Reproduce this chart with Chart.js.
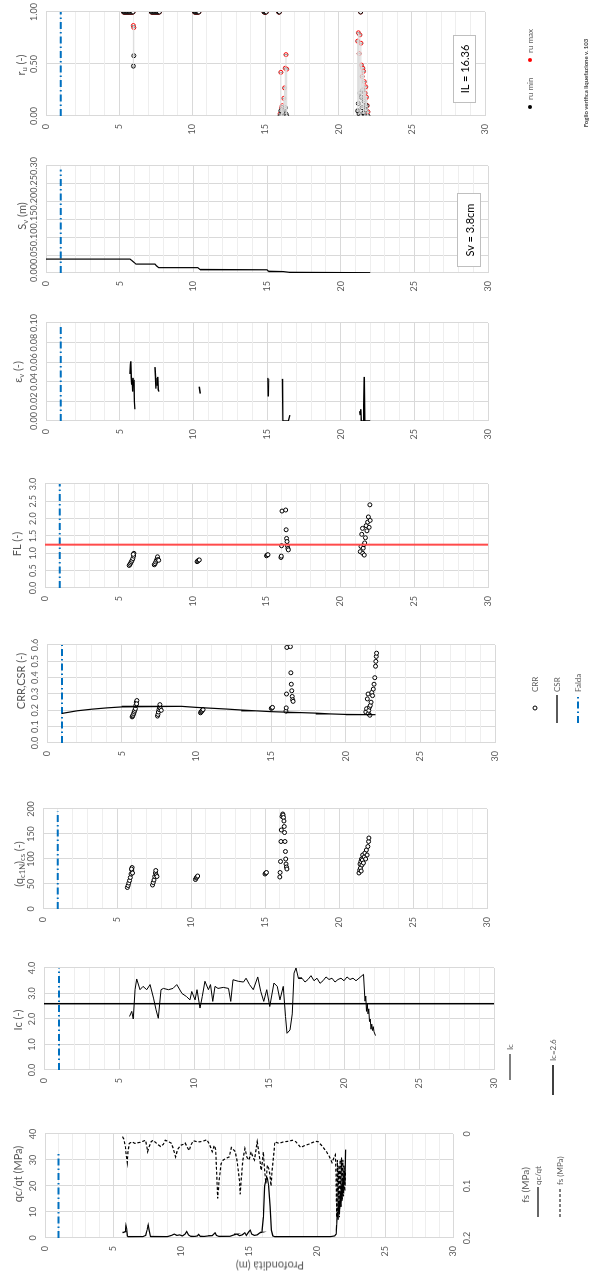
<!DOCTYPE html>
<html><head><meta charset="utf-8">
<script src="https://cdn.jsdelivr.net/npm/chart.js@4.4.0/dist/chart.umd.min.js"></script>
<style>
html,body{margin:0;padding:0;background:#fff;width:589px;height:1276px;overflow:hidden;}
#rot{position:absolute;left:0;top:0;width:1276px;height:589px;transform-origin:0 0;transform:translateY(1276px) rotate(-90deg);font-family:Lato,'Open Sans',sans-serif;}
#rot canvas{position:absolute;top:0;z-index:1;}
.t{position:absolute;white-space:nowrap;color:#595959;transform:translate(-50%,-50%);line-height:1;font-size:11px;z-index:2;}
.l{position:absolute;white-space:nowrap;color:#595959;transform:translateY(-50%);line-height:1;font-size:8px;z-index:2;}
sub{font-size:70%;vertical-align:-0.3em;line-height:0;}
.box{position:absolute;border:1px solid #bfbfbf;background:#fff;display:flex;align-items:center;justify-content:center;color:#000;box-sizing:border-box;white-space:nowrap;z-index:3;}
.dot{position:absolute;width:4px;height:4px;border-radius:50%;transform:translate(-50%,-50%);z-index:2;}
.sw{position:absolute;z-index:2;}
</style></head><body>
<div id="rot">
  <!-- axis titles -->
  <div class="t" style="left:1211px;top:20px">r<sub>u</sub> (-)</div>
  <div class="t" style="left:1060px;top:21px">S<sub>v</sub> (m)</div>
  <div class="t" style="left:904px;top:17px">ε<sub>v</sub> (-)</div>
  <div class="t" style="left:732px;top:16px">FL (-)</div>
  <div class="t" style="left:595px;top:20px">CRR,CSR (-)</div>
  <div class="t" style="left:412px;top:18px">(q<sub>c1N</sub>)<sub>cs</sub> (-)</div>
  <div class="t" style="left:256px;top:17px">Ic (-)</div>
  <div class="t" style="left:102px;top:17px">qc/qt (MPa)</div>
  <div class="t" style="left:91px;top:525px;font-size:10px">fs (MPa)</div>
  <div class="t" style="left:10px;top:270px;transform:translate(-50%,-50%) rotate(-90deg)">Profondità (m)</div>

  <!-- ru legend -->
  <div class="dot" style="left:1169px;top:530px;background:#000"></div>
  <div class="l" style="left:1176px;top:530px">ru min</div>
  <div class="dot" style="left:1216px;top:530px;background:#ff0000"></div>
  <div class="l" style="left:1223px;top:530px">ru max</div>
  <div class="t" style="left:1193px;top:586px;font-size:6px;font-weight:bold;color:#404040">Foglio verifica liquefazione v. 103</div>

  <!-- boxes -->
  <div class="box" style="left:1173px;top:453px;width:68px;height:23px;font-size:11px">IL = 16.36</div>
  <div class="box" style="left:1009px;top:457px;width:74px;height:24px;font-size:11px">Sv = 3.8cm</div>

  <!-- CRR legend -->
  <div class="dot" style="left:568px;top:535px;border:1px solid #000;background:#fff;width:3px;height:3px"></div>
  <div class="l" style="left:584px;top:535px">CRR</div>
  <svg class="sw" style="left:553px;top:554px" width="28" height="6"><line x1="0" y1="3" x2="28" y2="3" stroke="#000" stroke-width="1.3"/></svg>
  <div class="l" style="left:584px;top:557px">CSR</div>
  <svg class="sw" style="left:553px;top:575px" width="28" height="6"><line x1="0" y1="3" x2="28" y2="3" stroke="#0070C0" stroke-width="2" stroke-dasharray="7 3 1.5 3"/></svg>
  <div class="l" style="left:584px;top:578px">Falda</div>

  <!-- Ic legend -->
  <svg class="sw" style="left:196px;top:507px" width="26" height="6"><line x1="0" y1="3" x2="26" y2="3" stroke="#000" stroke-width="1"/></svg>
  <div class="l" style="left:226px;top:510px">Ic</div>
  <svg class="sw" style="left:181px;top:550px" width="30" height="6"><line x1="0" y1="3" x2="30" y2="3" stroke="#000" stroke-width="1.5"/></svg>
  <div class="l" style="left:215px;top:553px">Ic=2.6</div>

  <!-- qc legend -->
  <svg class="sw" style="left:59px;top:535px" width="30" height="6"><line x1="0" y1="3" x2="30" y2="3" stroke="#000" stroke-width="1.2"/></svg>
  <div class="l" style="left:91px;top:538px">qc/qt</div>
  <svg class="sw" style="left:59px;top:557px" width="30" height="6"><line x1="0" y1="3" x2="30" y2="3" stroke="#000" stroke-width="1.2" stroke-dasharray="3 2"/></svg>
  <div class="l" style="left:91px;top:560px">fs (MPa)</div>
</div>
<script>
// ---------------- DATA ----------------
const depthTicks = [0, 5, 10, 15, 20, 25, 30];
const faldaDepth = 1.0;
const icLimit = 2.6;
const flLimit = 1.25;

// qc/qt (MPa): [depth, value]
const qcProfile = [[5.70,2.0],[5.80,2.2],[5.90,2.5],[5.95,4.8],[6.00,3.5],[6.05,0.8],[6.10,0.5],[6.30,0.5],[6.60,0.6],[6.90,0.5],[7.20,0.6],[7.40,1.0],[7.50,3.0],[7.58,5.0],[7.65,3.0],[7.75,0.6],[8.00,0.5],[8.50,0.5],[9.00,0.6],[9.30,1.0],[9.50,1.5],[9.70,1.0],[9.90,1.2],[10.10,0.8],[10.30,1.5],[10.42,2.5],[10.55,1.2],[10.70,0.7],[11.00,0.6],[11.20,0.8],[11.30,1.4],[11.40,0.7],[11.70,0.6],[12.00,0.8],[12.30,0.9],[12.50,2.0],[12.60,1.0],[12.80,0.6],[13.20,0.6],[13.60,0.7],[13.90,1.2],[14.10,1.5],[14.30,0.9],[14.50,1.2],[14.70,2.0],[14.80,1.0],[15.00,2.5],[15.10,3.0],[15.20,1.5],[15.40,1.0],[15.60,1.2],[15.80,2.0],[15.95,2.2],[16.05,8.0],[16.15,20.0],[16.25,22.5],[16.35,23.0],[16.45,20.0],[16.55,12.0],[16.65,3.0],[16.75,0.8],[16.90,0.5],[17.50,0.5],[18.00,0.6],[18.50,0.5],[19.00,0.5],[19.50,0.6],[20.00,0.5],[20.50,0.5],[21.00,0.6],[21.30,0.8],[21.40,1.5],[21.45,5.0],[21.50,10.0],[21.55,7.0],[21.60,14.0],[21.65,9.0],[21.70,17.0],[21.75,12.0],[21.80,20.0],[21.85,15.0],[21.90,23.0],[21.95,18.0],[22.00,26.0],[22.05,21.0],[22.10,34.0]];

// fs (MPa): [depth, value]
const fsProfile = [[5.70,0.005],[5.80,0.010],[5.90,0.024],[5.97,0.040],[6.05,0.055],[6.10,0.035],[6.20,0.018],[6.40,0.015],[6.60,0.018],[6.80,0.017],[7.00,0.016],[7.20,0.014],[7.40,0.012],[7.55,0.034],[7.65,0.025],[7.80,0.015],[7.95,0.012],[8.20,0.018],[8.50,0.024],[8.70,0.020],[8.85,0.012],[9.10,0.015],[9.30,0.018],[9.45,0.030],[9.60,0.044],[9.75,0.030],[9.95,0.022],[10.15,0.020],[10.30,0.017],[10.45,0.025],[10.60,0.032],[10.75,0.020],[10.90,0.013],[11.20,0.015],[11.40,0.015],[11.70,0.013],[11.90,0.011],[12.10,0.020],[12.30,0.034],[12.45,0.022],[12.55,0.030],[12.70,0.124],[12.80,0.090],[12.95,0.057],[13.10,0.050],[13.30,0.047],[13.55,0.044],[13.70,0.026],[13.85,0.030],[14.00,0.034],[14.15,0.057],[14.30,0.090],[14.35,0.116],[14.45,0.080],[14.55,0.050],[14.70,0.028],[14.85,0.045],[15.00,0.050],[15.15,0.034],[15.30,0.045],[15.40,0.050],[15.60,0.015],[15.75,0.040],[15.90,0.070],[16.00,0.050],[16.05,0.034],[16.15,0.070],[16.25,0.095],[16.35,0.060],[16.45,0.066],[16.55,0.080],[16.62,0.100],[16.70,0.070],[16.80,0.045],[16.90,0.015],[17.20,0.018],[17.55,0.015],[17.90,0.014],[18.20,0.012],[18.45,0.015],[18.80,0.026],[19.10,0.022],[19.35,0.020],[19.70,0.016],[19.90,0.014],[20.10,0.015],[20.40,0.024],[20.70,0.034],[20.90,0.043],[21.10,0.055],[21.25,0.045],[21.35,0.040],[21.40,0.080],[21.45,0.160],[21.50,0.050],[21.55,0.150],[21.60,0.060],[21.65,0.160],[21.70,0.050],[21.75,0.140],[21.80,0.045],[21.85,0.130],[21.90,0.050],[21.95,0.120],[22.00,0.060],[22.05,0.110],[22.10,0.070]];

// Ic (-): [depth, value]
const icProfile = [[5.70,2.10],[5.85,2.30],[5.95,2.00],[6.07,3.15],[6.18,3.57],[6.40,3.15],[6.60,3.28],[6.85,3.15],[7.07,3.35],[7.30,2.82],[7.47,2.36],[7.62,2.03],[7.80,3.15],[7.96,3.20],[8.30,3.15],[8.60,3.20],[8.85,3.35],[9.20,3.00],[9.50,2.88],[9.73,2.75],[9.85,3.08],[10.07,2.75],[10.20,3.15],[10.40,2.43],[10.55,2.88],[10.73,3.48],[10.96,3.15],[11.10,3.35],[11.25,2.69],[11.40,3.28],[11.60,3.20],[11.95,3.24],[12.30,3.20],[12.45,2.69],[12.60,3.54],[12.95,3.48],[13.30,3.45],[13.47,3.60],[13.70,3.35],[13.95,3.15],[14.25,3.65],[14.45,3.08],[14.65,2.69],[14.85,3.15],[15.05,2.49],[15.33,3.41],[15.55,3.28],[15.73,2.75],[15.95,3.28],[16.10,2.10],[16.20,1.44],[16.40,1.57],[16.55,2.20],[16.67,3.80],[16.80,4.00],[16.96,3.60],[17.20,3.60],[17.40,3.45],[17.60,3.55],[17.80,3.70],[18.00,3.50],[18.20,3.60],[18.40,3.40],[18.60,3.50],[18.80,3.65],[19.00,3.55],[19.20,3.60],[19.40,3.45],[19.60,3.55],[19.80,3.60],[20.00,3.50],[20.20,3.65],[20.40,3.55],[20.60,3.60],[20.80,3.50],[21.00,3.60],[21.20,3.70],[21.30,3.75],[21.40,2.70],[21.45,2.90],[21.50,2.30],[21.55,2.60],[21.60,2.20],[21.65,2.40],[21.70,1.90],[21.75,2.00],[21.80,1.60],[21.85,1.80],[21.90,1.55],[21.95,1.70],[22.00,1.50],[22.10,1.35]];

// (qc1N)cs (-): [depth, value]
const qc1ncsPoints = [[5.70,43],[5.75,47],[5.80,52],[5.85,57],[5.90,63],[5.95,70],[6.00,78],[6.02,83],[5.98,80],[6.05,72],[7.40,48],[7.45,53],[7.50,58],[7.55,65],[7.60,72],[7.62,77],[7.65,68],[7.70,65],[10.30,59],[10.35,62],[10.40,64],[10.45,66],[15.00,70],[15.05,72],[15.10,73],[16.00,64],[16.02,73],[16.05,95],[16.08,135],[16.10,158],[16.15,185],[16.20,190],[16.22,188],[16.25,183],[16.28,176],[16.30,165],[16.32,153],[16.35,135],[16.38,115],[16.40,100],[16.42,90],[16.45,84],[16.48,80],[21.35,72],[21.40,78],[21.42,90],[21.45,82],[21.48,95],[21.50,76],[21.52,100],[21.55,88],[21.58,98],[21.60,108],[21.65,92],[21.70,104],[21.75,112],[21.80,100],[21.85,118],[21.90,108],[21.95,125],[22.00,135],[22.02,142]];

// CRR (-): [depth, value]
const crrPoints = [[5.70,0.160],[5.73,0.165],[5.76,0.170],[5.80,0.180],[5.84,0.190],[5.88,0.200],[5.92,0.210],[5.95,0.230],[5.98,0.250],[6.02,0.260],[6.00,0.240],[7.40,0.165],[7.43,0.175],[7.46,0.190],[7.50,0.205],[7.53,0.220],[7.56,0.235],[7.60,0.210],[7.65,0.200],[10.28,0.185],[10.32,0.190],[10.36,0.195],[10.40,0.200],[10.45,0.205],[15.02,0.212],[15.06,0.215],[15.10,0.218],[16.00,0.195],[16.02,0.215],[16.04,0.300],[16.06,0.585],[16.30,0.590],[16.33,0.430],[16.36,0.360],[16.39,0.320],[16.42,0.285],[16.45,0.265],[16.48,0.255],[21.35,0.190],[21.40,0.210],[21.45,0.270],[21.50,0.300],[21.52,0.180],[21.55,0.200],[21.60,0.220],[21.62,0.170],[21.65,0.230],[21.70,0.250],[21.75,0.310],[21.80,0.290],[21.85,0.330],[21.90,0.360],[21.95,0.400],[22.00,0.470],[22.02,0.500],[22.05,0.530],[22.07,0.550]];

// CSR (-): [depth, value]
const csrProfile = [[1,0.181],[2,0.197],[3,0.207],[4,0.215],[5,0.221],[6,0.225],[7,0.226],[8,0.225],[9,0.222],[10,0.218],[11,0.213],[12,0.208],[13,0.202],[14,0.197],[15,0.192],[16,0.189],[17,0.186],[18,0.183],[19,0.178],[20,0.175],[21,0.174],[22,0.173]];

// FL (-): [depth, value]
const flPoints = [[5.70,0.65],[5.75,0.68],[5.80,0.72],[5.85,0.76],[5.90,0.80],[5.95,0.85],[6.00,0.92],[6.02,1.00],[5.98,0.97],[7.40,0.67],[7.45,0.70],[7.50,0.75],[7.55,0.80],[7.60,0.85],[7.62,0.90],[7.65,0.82],[7.70,0.80],[10.30,0.76],[10.35,0.78],[10.40,0.80],[10.45,0.81],[15.00,0.93],[15.05,0.95],[15.10,0.96],[15.98,0.88],[16.00,0.92],[16.02,1.22],[16.05,2.22],[16.30,2.25],[16.33,1.68],[16.36,1.43],[16.39,1.34],[16.42,1.22],[16.45,1.14],[16.48,1.10],[21.35,1.05],[21.40,1.20],[21.45,1.55],[21.50,1.72],[21.52,1.00],[21.55,1.15],[21.60,1.25],[21.62,0.95],[21.65,1.30],[21.70,1.45],[21.75,1.80],[21.80,1.65],[21.85,1.90],[21.90,2.05],[21.95,1.75],[22.00,2.40],[22.02,1.95]];

// eps_v (-): [depth, value], null = gap
const epsProfile = [[5.70,0.048],[5.73,0.058],[5.76,0.061],[5.79,0.045],[5.82,0.037],[5.85,0.043],[5.88,0.030],[5.91,0.044],[5.94,0.035],[5.97,0.042],[6.00,0.020],[6.03,0.012],null,[7.40,0.055],[7.43,0.045],[7.46,0.033],[7.50,0.044],[7.54,0.036],[7.58,0.045],[7.62,0.032],[7.66,0.030],null,[10.40,0.035],[10.47,0.028],null,[15.06,0.044],[15.08,0.025],[15.10,0.043],null,[16.05,0.043],[16.08,0.000],[16.30,0.000],[16.45,0.000],[16.55,0.006],null,[21.30,0.010],[21.33,0.006],[21.36,0.012],[21.40,0.000],[21.55,0.000],[21.60,0.045],[21.63,0.000],[21.80,0.000],[22.00,0.000]];

// S_v (m): [depth, value]
const svProfile = [[0,0.039],[5.70,0.039],[5.80,0.036],[6.00,0.029],[6.10,0.025],[7.40,0.025],[7.50,0.020],[7.65,0.015],[10.30,0.015],[10.45,0.010],[15.00,0.009],[15.10,0.005],[16.00,0.005],[16.10,0.003],[16.50,0.002],[21.30,0.0015],[21.60,0.001],[22.00,0.000]];

// r_u: [depth, ru min, ru max]
const ruPoints = [[5.30,1,1],[5.35,1,1],[5.40,1,1],[5.45,1,1],[5.50,1,1],[5.55,1,1],[5.60,1,1],[5.65,1,1],[5.70,1,1],[5.75,1,1],[5.80,1,1],[5.85,1,1],[5.90,1,1],[5.95,1,1],[5.97,0.48,0.87],[6.00,0.58,0.85],[7.20,1,1],[7.25,1,1],[7.30,1,1],[7.35,1,1],[7.40,1,1],[7.45,1,1],[7.50,1,1],[7.55,1,1],[7.60,1,1],[7.65,1,1],[7.70,1,1],[7.75,1,1],[10.15,1,1],[10.20,1,1],[10.25,1,1],[10.30,1,1],[10.35,1,1],[10.40,1,1],[10.45,1,1],[14.90,1,1],[14.95,1,1],[15.00,1,1],[15.05,1,1],[15.90,1,1],[15.95,1,1],[16.00,0.00,0.02],[16.05,0.05,0.42],[16.10,0.00,0.08],[16.15,0.02,0.10],[16.20,0.00,0.05],[16.25,0.04,0.17],[16.30,0.06,0.27],[16.35,0.08,0.46],[16.40,0.02,0.59],[16.45,0.00,0.45],[21.30,0.05,0.72],[21.35,0.12,0.80],[21.40,0.02,0.60],[21.45,0.22,0.78],[21.50,1.00,1.00],[21.52,0.00,0.70],[21.55,0.18,0.49],[21.60,0.08,0.38],[21.65,0.25,0.46],[21.70,0.03,0.43],[21.75,0.14,0.33],[21.80,0.00,0.22],[21.85,0.06,0.28],[21.90,0.10,0.18],[21.95,0.00,0.10],[22.00,0.00,0.04]];

// ---------------- DRAW ----------------
const GRID = '#d9d9d9', MINOR = '#eeeeee', TXT = '#595959', BLUE = '#0070C0';
Chart.defaults.font.family = 'Lato';
Chart.defaults.animation = false;

const xy = arr => arr.map(p => p === null ? {x:null, y:null} : {x:p[1], y:p[0]});
const scatterDs = (data, color) => ({data, showLine:false, pointRadius:2, pointHoverRadius:2, pointBorderWidth:1, pointBorderColor:color||'#000', pointBackgroundColor:'#fff'});
const lineDs = (data, color, width, dash, axis) => ({data, showLine:true, pointRadius:0, borderColor:color, borderWidth:width, borderDash:dash||[], spanGaps:false, xAxisID:axis||'x'});
const faldaDs = (maxV, axis) => lineDs([{x:0,y:faldaDepth},{x:maxV,y:faldaDepth}], BLUE, 2, [7,3,1.5,3], axis);

function zeroPad(s){ s.paddingLeft = 0; s.paddingRight = 0; s.paddingTop = 0; s.paddingBottom = 0; }

function panel(o) {
  const padR = 12, padB = o.x2 ? 40 : 8;
  const w = (o.R - o.L) + 40 + padR;
  const h = o.B + padB;
  const cv = document.createElement('canvas');
  cv.width = w; cv.height = h;
  cv.style.left = (o.L - 40) + 'px';
  cv.style.width = w + 'px'; cv.style.height = h + 'px';
  document.getElementById('rot').appendChild(cv);
  const scales = {
    x: {type:'linear', position:'top', min:o.min, max:o.max,
        ticks:{stepSize:o.step, autoSkip:false, maxRotation:0, minRotation:0, color:TXT, font:{size:9}, padding:7, callback:o.fmt},
        grid:{color:GRID, drawTicks:false}, border:{color:GRID},
        afterFit: s => { s.height = o.T; zeroPad(s); }},
    y: {type:'linear', position:'left', reverse:true, min:0, max:30,
        ticks:{stepSize:1, autoSkip:false, color:TXT, font:{size:9}, padding:8,
               callback: v => depthTicks.includes(v) ? String(v) : ''},
        grid:{color: c => (c.tick && depthTicks.includes(c.tick.value)) ? GRID : MINOR, drawTicks:false},
        border:{color:GRID},
        afterFit: s => { s.width = 40; zeroPad(s); }}
  };
  if (o.x2) scales.x2 = o.x2;
  new Chart(cv, {
    type:'scatter',
    data:{datasets:o.datasets},
    options:{responsive:false, animation:false, devicePixelRatio:1,
      layout:{autoPadding:false, padding:{left:0, top:0, right:padR, bottom:padB}},
      plugins:{legend:{display:false}, tooltip:{enabled:false}},
      events:[], scales}
  });
}

// qc / fs
panel({L:38, R:142, T:45, B:493, min:0, max:40, step:10, fmt:v=>String(v),
  x2:{type:'linear', position:'bottom', reverse:true, min:0, max:0.2,
      ticks:{stepSize:0.1, autoSkip:false, maxRotation:0, color:TXT, font:{size:9}, padding:9, callback:v=> v===0 ? '0' : v.toFixed(1)},
      grid:{display:false, drawTicks:false}, border:{display:false},
      afterFit: s => { s.height = 40; zeroPad(s); }},
  datasets:[
    lineDs(xy(fsProfile), '#000', 1.2, [3,2], 'x2'),
    lineDs(xy(qcProfile), '#000', 1.2),
    faldaDs(33)
  ]});

// Ic
panel({L:206, R:308, T:44, B:494, min:0, max:4, step:1, fmt:v=>v.toFixed(1),
  datasets:[
    lineDs([{x:icLimit,y:0},{x:icLimit,y:30}], '#000', 1.5),
    lineDs(xy(icProfile), '#000', 1),
    faldaDs(4)
  ]});

// (qc1N)cs
panel({L:367, R:467, T:43, B:487, min:0, max:200, step:50, fmt:v=>String(v),
  datasets:[ scatterDs(xy(qc1ncsPoints)), faldaDs(195) ]});

// CRR, CSR
panel({L:533, R:631, T:47, B:495, min:0, max:0.6, step:0.1, fmt:v=>v.toFixed(1),
  datasets:[ lineDs(xy(csrProfile), '#000', 1.2), scatterDs(xy(crrPoints)), faldaDs(0.6) ]});

// FL
panel({L:688, R:792, T:45, B:488, min:0, max:3, step:0.5, fmt:v=>v.toFixed(1),
  datasets:[ lineDs([{x:flLimit,y:0},{x:flLimit,y:30}], '#ff4b4b', 2), scatterDs(xy(flPoints)), faldaDs(3) ]});

// eps_v
panel({L:855, R:953, T:46, B:488, min:0, max:0.1, step:0.02, fmt:v=>v.toFixed(2),
  datasets:[ lineDs(xy(epsProfile), '#000', 1.4), faldaDs(0.097) ]});

// S_v
panel({L:1003, R:1110, T:46, B:488, min:0, max:0.3, step:0.05, fmt:v=>v.toFixed(2),
  datasets:[ lineDs(xy(svProfile), '#000', 1.2), faldaDs(0.29) ]});

// r_u
const ruWhisk = [], ruCaps = [];
ruPoints.forEach(p => {
  if (p[1] !== p[2]) {
    ruWhisk.push({x:p[1], y:p[0]}, {x:p[2], y:p[0]}, {x:null, y:null});
    ruCaps.push({x:p[1], y:p[0]}, {x:p[2], y:p[0]});
  }
});
panel({L:1160, R:1264, T:46, B:485, min:0, max:1, step:0.5, fmt:v=>v.toFixed(2),
  datasets:[
    lineDs(ruWhisk, '#dddddd', 1),
    {data:ruCaps, showLine:false, pointStyle:'line', rotation:90, pointRadius:2.5, pointBorderWidth:1, pointBorderColor:'#8c8c8c'},
    scatterDs(ruPoints.map(p => ({x:p[1], y:p[0]})), '#000'),
    scatterDs(ruPoints.map(p => ({x:p[2], y:p[0]})), '#ff0000'),
    faldaDs(1)
  ]});
</script>
</body></html>
